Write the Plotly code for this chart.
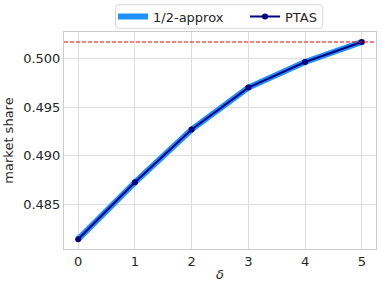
import plotly.graph_objects as go

delta = [0, 1, 2, 3, 4, 5]
approx_half = [0.48139, 0.48725, 0.49270, 0.49701, 0.49965, 0.50171]
ptas = [0.48139, 0.48725, 0.49270, 0.49701, 0.49965, 0.50171]
upper_bound = 0.50171
y_ticks = [0.485, 0.490, 0.495, 0.500]

fig = go.Figure()
fig.add_trace(go.Scatter(x=delta, y=approx_half, mode="lines", name="1/2-approx",
                         line=dict(color="#1E90FF", width=6), legend="legend"))
fig.add_trace(go.Scatter(x=delta, y=ptas, mode="lines+markers", name="PTAS",
                         line=dict(color="#000080", width=2),
                         marker=dict(color="#000080", size=6), legend="legend2"))
fig.add_hline(y=upper_bound, line=dict(color="#ff0000", width=1.1, dash="4px,2px"))

# legend frame (rounded box around both legend entries), paper coordinates
px_x = 1 / 312.0
px_y = 1 / 217.0
bx0, bx1 = 0.1651, 0.8292
by0, by1 = 1.0171, 1.1258
r = 3
path = (f"M {bx0 + r*px_x} {by0} L {bx1 - r*px_x} {by0} "
        f"Q {bx1} {by0} {bx1} {by0 + r*px_y} L {bx1} {by1 - r*px_y} "
        f"Q {bx1} {by1} {bx1 - r*px_x} {by1} L {bx0 + r*px_x} {by1} "
        f"Q {bx0} {by1} {bx0} {by1 - r*px_y} L {bx0} {by0 + r*px_y} "
        f"Q {bx0} {by0} {bx0 + r*px_x} {by0} Z")
fig.add_shape(type="path", path=path, xref="paper", yref="paper",
              line=dict(color="#d6d6d6", width=1), fillcolor="rgba(255,255,255,0.8)",
              layer="below")

axis_common = dict(showgrid=True, gridcolor="#dddddd", gridwidth=1,
                   showline=True, linecolor="#cccccc", linewidth=1, mirror=True,
                   zeroline=False, ticks="", ticklen=0, automargin=False,
                   tickfont=dict(size=13, color="#262626"))

legend_common = dict(orientation="h", yref="container", yanchor="middle", y=0.9429,
                     xanchor="left", bgcolor="rgba(0,0,0,0)", borderwidth=0,
                     font=dict(size=13))

fig.update_layout(
    width=382, height=289,
    margin=dict(l=64, r=6, t=32, b=40),
    paper_bgcolor="white", plot_bgcolor="white",
    font=dict(family="DejaVu Sans", color="#262626"),
    showlegend=True,
    legend=dict(x=0.1571, **legend_common),
    legend2=dict(x=0.5801, **legend_common),
    xaxis=dict(range=[-0.25, 5.25], tickvals=delta,
               title=dict(text="<i>δ</i>", font=dict(size=13), standoff=2),
               **axis_common),
    yaxis=dict(range=[0.48038, 0.50274], tickvals=y_ticks, tickformat=".3f",
               title=dict(text="market share", font=dict(size=13), standoff=6),
               **axis_common),
)

fig.write_html("out.html", config={"displayModeBar": False},
               post_script="document.body.style.margin='0';")
